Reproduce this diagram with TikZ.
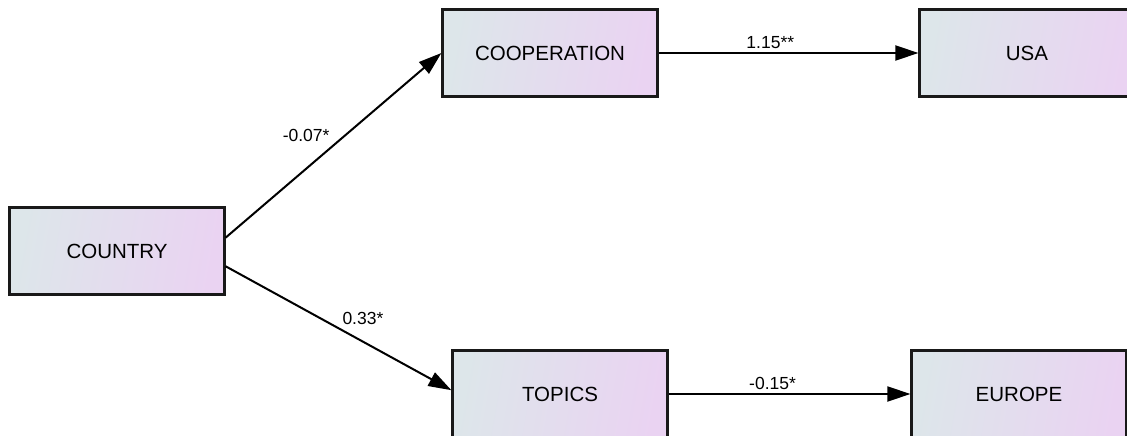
\documentclass[tikz,border=0pt]{standalone}
\usepackage{fontspec}
\setmainfont{Liberation Sans}
\usepackage{tikz}
\usetikzlibrary{positioning}
\usetikzlibrary{arrows.meta}

\definecolor{boxleft}{HTML}{DDE6EA}
\definecolor{boxright}{HTML}{EAD3F2}

\begin{document}
\begin{tikzpicture}
                [x=1pt, y=-1pt,
                 block/.style = {minimum width=215pt, minimum height=87pt, draw=black!90, line width=2.2pt,
                                 left color=boxleft, right color=boxright, shading angle=80,
                                 font=\fontsize{20.5}{24}\selectfont, text=black},
                 path/.style = {-{Triangle[length=23pt,width=15pt]}, line width=2pt, black},
                 coef/.style = {font=\fontsize{17.5}{20}\selectfont, inner sep=3pt}]

                \useasboundingbox (0,0) rectangle (1127,436);
                \clip (0,0) rectangle (1127,436);

                \node[block] (country) at (117,251) {COUNTRY};
                \node[block] (coop) at (550,53) {COOPERATION};
                \node[block] (usa) at (1027,53) {USA};
                \node[block] (topics) at (560,394) {TOPICS};
                \node[block] (europe) at (1019,394) {EUROPE};

                \draw[path] (country.7) to node[coef, pos=0.5, above left] {-0.07*} (coop.west);
                \draw[path] (country.-8) to node[coef, pos=0.5, above right] {0.33*} (topics.178);
                \draw[path] (coop.east) to node[coef, pos=0.43, above] {1.15**} (usa.west);
                \draw[path] (topics.east) to node[coef, pos=0.43, above] {-0.15*} (europe.west);
            \end{tikzpicture}
\end{document}
